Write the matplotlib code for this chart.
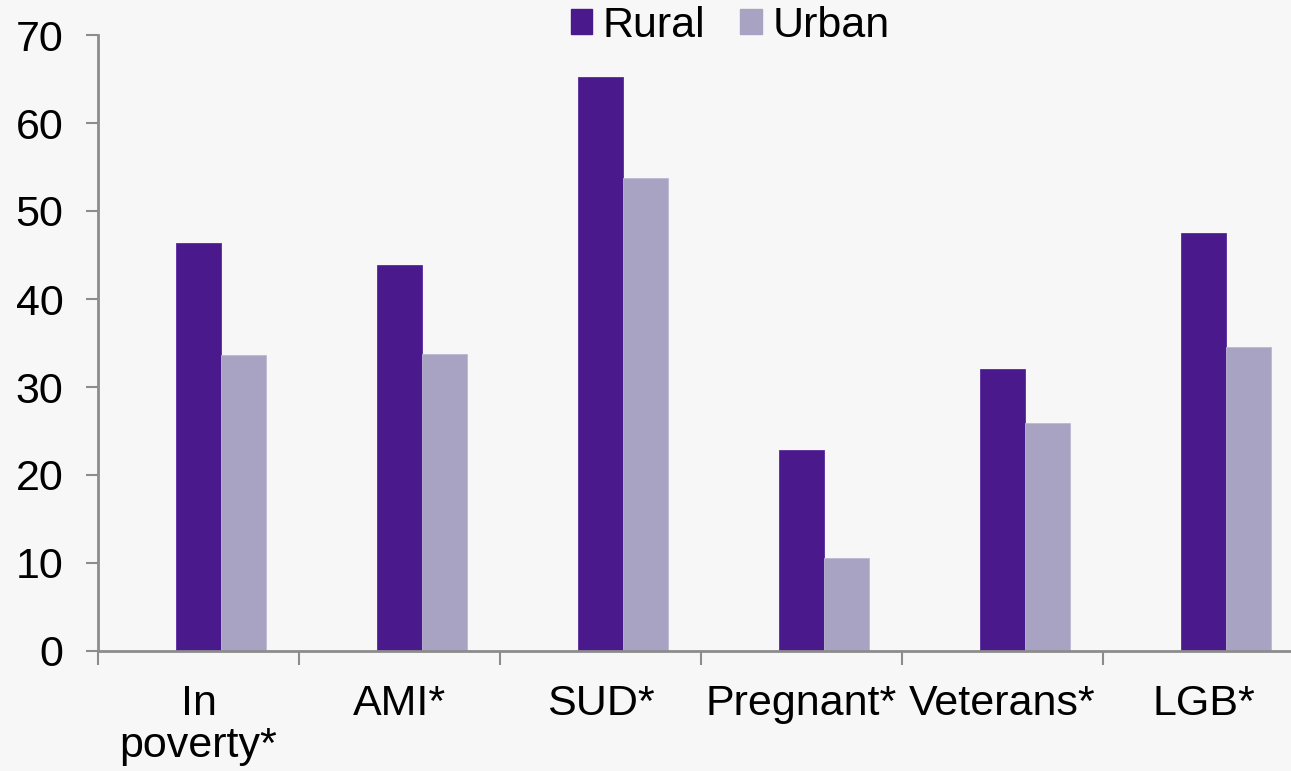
import numpy as np
import matplotlib.pyplot as plt
from matplotlib.patches import Patch

categories = ["In\npoverty*", "AMI*", "SUD*", "Pregnant*", "Veterans*", "LGB*"]
rural = [46.4, 43.9, 65.2, 22.8, 32.0, 47.5]
urban = [33.6, 33.8, 53.8, 10.6, 25.9, 34.6]

plt.rcParams['font.family'] = ['Liberation Sans', 'DejaVu Sans']

bg = '#f7f7f7'
c_rural = '#4a198c'
c_urban = '#a8a3c3'
axcol = '#8c8c8c'

fig = plt.figure(figsize=(12.91, 7.71), dpi=100, facecolor=bg)
ax = fig.add_axes([98 / 1291, 1 - 651 / 771, 1206 / 1291, 616 / 771], facecolor=bg)

x = np.arange(len(categories))
w = 0.224
ax.bar(x, rural, width=w, color=c_rural, edgecolor='#5a2aa0', linewidth=0.6)
ax.bar(x + w, urban, width=w, color=c_urban, edgecolor='#bcb8d4', linewidth=0.6)

ax.set_xlim(-0.5, 5.5)
ax.set_ylim(0, 70)
ax.set_yticks(range(0, 71, 10))
ax.tick_params(axis='y', labelsize=31, length=9, width=1.5, color=axcol, pad=16)

ax.set_xticks(x)
ax.set_xticklabels(categories, fontsize=31, linespacing=1.05)
ax.tick_params(axis='x', length=0, pad=24)
ax.set_xticks(np.arange(-0.5, 6, 1), minor=True)
ax.tick_params(axis='x', which='minor', length=10, width=1.5, color=axcol)

for s in ['top', 'right']:
    ax.spines[s].set_visible(False)
for s in ['left', 'bottom']:
    ax.spines[s].set_color(axcol)
    ax.spines[s].set_linewidth(2)

handles = [Patch(color=c_rural, label='Rural'), Patch(color=c_urban, label='Urban')]
fig.legend(handles=handles, loc='center', bbox_to_anchor=(730 / 1291, 1 - 26 / 771),
           ncol=2, frameon=False, fontsize=31, handlelength=0.5, handleheight=0.5,
           handletextpad=0.25, columnspacing=0.8, borderpad=0)

fig.savefig('out.png', dpi=100, facecolor=bg)
